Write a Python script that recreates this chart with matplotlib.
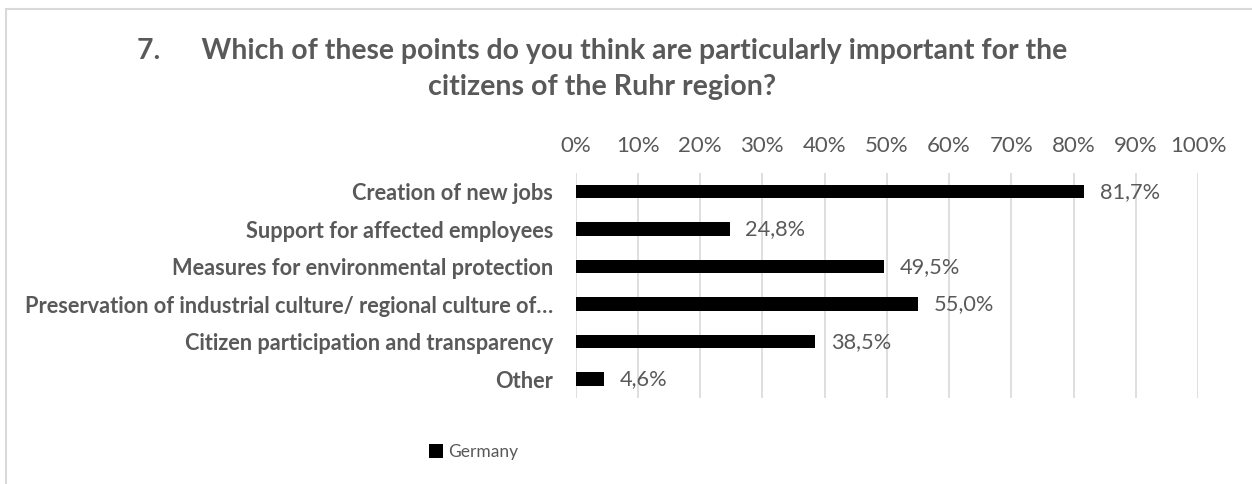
import matplotlib.pyplot as plt
from matplotlib.patches import Rectangle

categories = [
    "Creation of new jobs",
    "Support for affected employees",
    "Measures for environmental protection",
    "Preservation of industrial culture/ regional culture of\u2026",
    "Citizen participation and transparency",
    "Other",
]
germany = [81.7, 24.8, 49.5, 55.0, 38.5, 4.6]
ticks = [0, 10, 20, 30, 40, 50, 60, 70, 80, 90, 100]

grey = "#595959"
plt.rcParams["font.family"] = ["Lato", "DejaVu Sans"]

fig = plt.figure(figsize=(12.52, 4.84), dpi=100)
ax = fig.add_axes([0.4597, 0.1777, 0.4972, 0.4649])

# chart frame
fig.patches.append(Rectangle((6 / 1252, -0.1), 1.2, 1 - 9 / 484 + 0.1,
                             transform=fig.transFigure, fill=False,
                             edgecolor="#d9d9d9", linewidth=1.5))

y = list(range(len(categories)))
bars = ax.barh(y, germany, height=0.36, color="black", label="Germany", zorder=3)
ax.set_ylim(len(categories) - 0.5, -0.5)
ax.set_xlim(0, 100)
ax.set_xticks(ticks)
ax.set_xticklabels([f"{t}%" for t in ticks])
ax.xaxis.tick_top()
ax.tick_params(axis="x", length=0, pad=12, labelsize=16, labelcolor=grey)
ax.set_yticks(y)
ax.set_yticklabels(categories, fontweight="bold")
ax.tick_params(axis="y", length=0, pad=16, labelsize=15.7, labelcolor=grey)
ax.grid(axis="x", color="#d9d9d9", linewidth=1.2, zorder=0)
for s in ax.spines.values():
    s.set_visible(False)

for b, v in zip(bars, germany):
    ax.text(v + 2.5, b.get_y() + b.get_height() / 2,
            f"{v:.1f}%".replace(".", ","), va="center", ha="left",
            fontsize=15.7, color=grey)

fig.text(0.481, 0.895, "7.      Which of these points do you think are particularly important for the",
         ha="center", va="center", fontsize=20.4, fontweight="bold", color=grey)
fig.text(0.481, 0.82, "citizens of the Ruhr region?",
         ha="center", va="center", fontsize=20.6, fontweight="bold", color=grey)

fig.legend(handles=[bars], labels=["Germany"], loc="center",
           bbox_to_anchor=(474 / 1252, 1 - 452 / 484), frameon=False,
           fontsize=12.5, labelcolor=grey, handlelength=0.8, handleheight=0.8,
           handletextpad=0.3)

fig.savefig("out.png", dpi=100)
